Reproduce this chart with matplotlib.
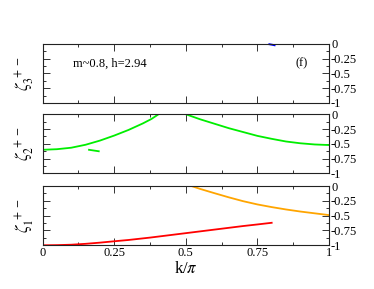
import matplotlib
matplotlib.use("Agg")
import matplotlib.pyplot as plt
from matplotlib.ticker import MultipleLocator

plt.rcParams["font.family"] = ["Liberation Serif", "DejaVu Serif"]
plt.rcParams["mathtext.fontset"] = "stix"
plt.rcParams["axes.unicode_minus"] = False

# top panel (zeta_3): only a tiny blue piece near k/pi = 0.8
z3_blue_k = [0.792, 0.800, 0.810]
z3_blue_v = [-0.008, -0.015, -0.025]

# middle panel (zeta_2), green branches
z2_left_k = [0.0, 0.05, 0.1, 0.15, 0.2, 0.25, 0.3, 0.35, 0.38, 0.405]
z2_left_v = [-0.60, -0.59, -0.565, -0.515, -0.445, -0.36, -0.265, -0.155, -0.08, 0.0]
z2_piece_k = [0.162, 0.196]
z2_piece_v = [-0.60, -0.625]
z2_right_k = [0.5, 0.55, 0.6, 0.65, 0.7, 0.75, 0.8, 0.85, 0.9, 0.95, 1.0]
z2_right_v = [0.0, -0.085, -0.16, -0.235, -0.30, -0.365, -0.415, -0.46, -0.49, -0.51, -0.52]

# bottom panel (zeta_1)
z1_red_k = [0.0, 0.05, 0.1, 0.15, 0.2, 0.25, 0.3, 0.375, 0.45, 0.5, 0.55, 0.625, 0.7, 0.75, 0.8]
z1_red_v = [-1.0, -0.997, -0.99, -0.975, -0.955, -0.932, -0.91, -0.87, -0.825, -0.795,
            -0.765, -0.72, -0.675, -0.648, -0.62]
z1_orange_k = [0.52, 0.55, 0.6, 0.65, 0.7, 0.75, 0.8, 0.85, 0.9, 0.95, 1.0]
z1_orange_v = [0.0, -0.048, -0.12, -0.19, -0.255, -0.31, -0.355, -0.395, -0.43, -0.46, -0.49]

ytick_vals = [0, -0.25, -0.5, -0.75, -1]
ytick_labels = ["0", "-0.25", "-0.5", "-0.75", "-1"]
xtick_vals = [0, 0.25, 0.5, 0.75, 1]
xtick_labels = ["0", "0.25", "0.5", "0.75", "1"]

fig = plt.figure(figsize=(3.74, 2.89), dpi=100)
left, width, height = 0.114, 0.7655, 0.205
bottoms = [0.6436, 0.3997, 0.1512]
axes = [fig.add_axes([left, b, width, height]) for b in bottoms]

for ax in axes:
    ax.set_xlim(0, 1)
    ax.set_ylim(-1, 0)
    ax.xaxis.set_major_locator(MultipleLocator(0.25))
    ax.xaxis.set_minor_locator(MultipleLocator(0.125))
    ax.set_yticks(ytick_vals)
    ax.set_yticklabels(ytick_labels)
    ax.yaxis.set_minor_locator(MultipleLocator(0.125))
    ax.tick_params(which="both", direction="in", top=True, right=True,
                   labelleft=False, labelright=True, labelbottom=False,
                   labelsize=9, pad=1.5, width=0.7, color="#333333")
    ax.tick_params(which="major", length=5)
    ax.tick_params(which="minor", length=2.5)
    for s in ax.spines.values():
        s.set_linewidth(0.8)
        s.set_color("#222222")

ax3, ax2, ax1 = axes

ax3.plot(z3_blue_k, z3_blue_v, color="#0000ff", lw=1.4, clip_on=False)
ax3.text(0.106, -0.33, "m~0.8, h=2.94", fontsize=9, va="center", ha="left")
ax3.text(0.904, -0.33, "(f)", fontsize=9, va="center", ha="center")
ax3.set_ylabel(r"$\zeta_3^{\;+-}$", fontsize=12, labelpad=4)

ax2.plot(z2_left_k, z2_left_v, color="#00ee00", lw=1.3)
ax2.plot(z2_piece_k, z2_piece_v, color="#00ee00", lw=1.3)
ax2.plot(z2_right_k, z2_right_v, color="#00ee00", lw=1.3)
ax2.set_ylabel(r"$\zeta_2^{\;+-}$", fontsize=12, labelpad=4)

ax1.plot(z1_red_k, z1_red_v, color="#ff0000", lw=1.3)
ax1.plot(z1_orange_k, z1_orange_v, color="#ffa500", lw=1.3)
ax1.set_ylabel(r"$\zeta_1^{\;+-}$", fontsize=12, labelpad=4)
ax1.set_xticks(xtick_vals)
ax1.set_xticklabels(xtick_labels)
ax1.tick_params(labelbottom=True)
ax1.set_xlabel(r"k/$\pi$", fontsize=12, labelpad=1)

fig.savefig("out.png", dpi=100)
